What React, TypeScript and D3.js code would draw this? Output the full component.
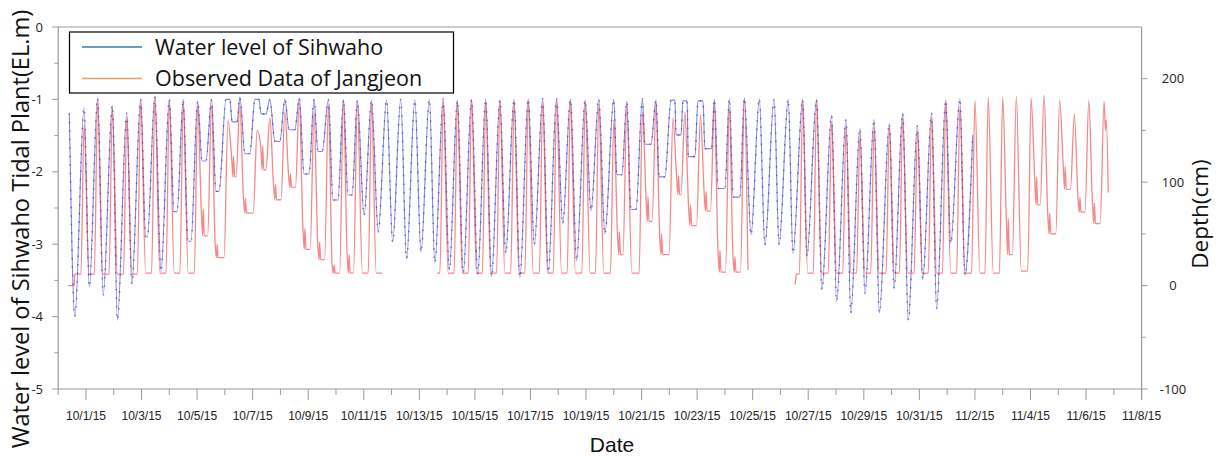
import React from 'react';
import * as d3 from 'd3';

// ---- axis labels ----
const xTickLabels = ['10/1/15', '10/3/15', '10/5/15', '10/7/15', '10/9/15', '10/11/15', '10/13/15', '10/15/15', '10/17/15', '10/19/15', '10/21/15', '10/23/15', '10/25/15', '10/27/15', '10/29/15', '10/31/15', '11/2/15', '11/4/15', '11/6/15', '11/8/15'];
const leftTicks = [0, -1, -2, -3, -4, -5];
const rightTicks = [200, 100, 0, -100];

// ---- Sihwaho water level (EL.m): turning points [days since 10/1/15, level] ----
const sihwahoPoints: [number, number][] = [
  [-0.60, -1.19], [-0.40, -4.00], [-0.07, -1.12], [0.12, -3.59], [0.42, -0.98], [0.62, -3.70],
  [0.95, -1.08], [1.13, -4.05], [1.47, -1.19], [1.65, -3.55], [1.97, -1.00], [2.15, -2.90], [2.21, -2.90],
  [2.48, -0.96], [2.70, -3.38], [3.00, -1.00], [3.17, -2.55], [3.28, -2.55], [3.50, -1.00],
  [3.67, -2.96], [3.78, -2.96], [4.02, -1.02], [4.18, -1.85], [4.32, -1.85], [4.52, -1.00],
  [4.68, -2.27], [4.79, -2.27], [5.04, -1.00], [5.18, -1.00], [5.26, -1.31], [5.44, -1.31],
  [5.54, -0.97], [5.72, -1.75], [5.90, -1.75], [6.08, -1.00], [6.23, -1.00], [6.30, -1.20], [6.48, -1.20],
  [6.62, -1.00], [6.80, -1.58], [6.98, -1.58], [7.16, -1.00], [7.31, -1.42], [7.52, -1.42],
  [7.68, -0.98], [7.85, -2.03], [8.03, -2.03], [8.21, -1.00], [8.35, -1.72], [8.50, -1.72],
  [8.73, -1.00], [8.89, -2.39], [9.07, -2.39], [9.27, -1.00], [9.43, -2.32], [9.58, -2.32],
  [9.77, -1.01], [10.01, -2.60], [10.28, -1.01], [10.52, -2.83], [10.82, -1.01], [11.04, -2.97],
  [11.33, -1.00], [11.54, -3.20], [11.84, -1.01], [12.06, -3.11], [12.36, -1.00], [12.56, -3.26],
  [12.86, -0.99], [13.08, -3.36], [13.37, -1.01], [13.58, -3.40], [13.88, -1.00], [14.10, -3.42],
  [14.39, -1.00], [14.60, -3.45], [14.90, -1.01], [15.11, -3.13], [15.41, -1.00], [15.62, -3.46],
  [15.92, -0.99], [16.14, -3.01], [16.44, -0.99], [16.64, -3.39], [16.94, -0.99], [17.16, -2.72],
  [17.44, -1.00], [17.66, -3.23], [17.97, -1.01], [18.18, -2.54], [18.46, -0.99], [18.68, -2.86],
  [19.00, -1.00], [19.11, -2.04], [19.29, -2.04], [19.47, -1.03], [19.62, -2.52], [19.80, -2.52],
  [20.03, -0.99], [20.12, -1.62], [20.34, -1.62], [20.52, -1.01], [20.63, -2.07], [20.84, -2.07],
  [21.06, -1.01], [21.20, -1.01], [21.24, -1.49], [21.42, -1.49], [21.49, -1.02], [21.64, -1.02],
  [21.68, -1.79], [21.92, -1.79], [22.03, -1.02], [22.21, -1.02], [22.28, -1.68], [22.52, -1.68],
  [22.62, -1.00], [22.76, -2.23], [23.00, -2.23], [23.16, -0.99], [23.30, -2.35], [23.54, -2.35],
  [23.70, -0.98], [23.94, -2.87], [24.24, -0.99], [24.44, -3.01], [24.77, -1.00], [24.95, -3.01],
  [25.28, -1.00], [25.45, -3.13], [25.80, -1.00], [25.95, -3.17], [26.30, -1.00], [26.49, -3.63],
  [26.84, -1.22], [27.02, -3.79], [27.36, -1.28], [27.53, -3.95], [27.86, -1.40], [28.04, -3.68],
  [28.37, -1.28], [28.56, -3.95], [28.92, -1.33], [29.09, -3.61], [29.40, -1.19], [29.60, -4.05],
  [29.93, -1.36], [30.12, -3.49], [30.44, -1.19], [30.62, -3.89], [30.95, -1.01], [31.13, -2.99],
  [31.46, -0.99], [31.64, -3.43], [31.92, -1.49],
];

// ---- Jangjeon observed depth (cm), one entry per high tide ----
const highTideDays = [-0.07, 0.42, 0.95, 1.47, 1.97, 2.48, 3.00, 3.50, 4.02, 4.52, 5.11, 5.54, 6.16, 6.62, 7.16, 7.68, 8.21, 8.73, 9.27, 9.77, 10.28, 10.82, 11.33, 11.84, 12.36, 12.86, 13.37, 13.88, 14.39, 14.90, 15.41, 15.92, 16.44, 16.94, 17.44, 17.97, 18.46, 19.00, 19.47, 20.03, 20.52, 21.13, 21.56, 22.12, 22.62, 23.16, 23.70, 24.24, 24.77, 25.28, 25.80, 26.30, 26.84, 27.36, 27.86, 28.37, 28.92, 29.40, 29.93, 30.44, 30.95, 31.46, 32.00, 32.48, 33.00, 33.49, 34.02, 34.49, 35.05, 35.58, 36.10, 36.65];
const jangjeonHigh: (number | null)[] = [155, 178, 172, 163, 178, 182, 178, 177, 175, 174, 160, 174, 150, 162, 168, 177, 168, 175, 178, 176, 176, null, null, null, null, 178, 178, 179, 178, 179, 178, 179, 178, 180, 179, 178, 176, 160, 174, 168, 175, 162, 168, 165, 174, 171, 181, null, null, null, 178, 179, 158, 154, 146, 154, 153, 163, 150, 163, 178, 173, 179, 182, 182, 183, 181, 184, 179, 166, 179, 178];
const jangjeonLow: (number | null)[] = [11, 11, 11, 11, 12, 12, 12, 12, 48, 27, 105, 70, 112, 83, 95, 35, 25, 12, 12, 12, null, null, null, null, null, 12, 12, 12, 12, 12, 12, 12, 12, 12, 12, 12, 12, 30, 12, 62, 30, 88, 58, 72, 13, 13, null, null, null, null, 12, 12, 12, 12, 12, 12, 12, 12, 12, 12, 12, 12, 12, 12, 30, 14, 78, 50, 93, 71, 60, null];
const jangjeonSpike: (number | null)[] = [null, null, null, null, null, null, null, null, 74, 40, 125, 84, 135, 98, 108, 55, 42, 20, 30, null, null, null, null, null, null, null, null, null, null, null, null, null, null, null, null, null, null, 52, null, 86, 50, 106, 78, 91, 34, 28, null, null, null, null, null, null, null, null, null, null, null, null, null, null, null, null, null, null, 65, null, 105, 70, 115, 85, 80, null];
const jangjeonLeadIn: [number, number][][] = [
  [[-0.65, 0], [-0.42, 0], [-0.41, 11], [-0.18, 11]],
  [[12.64, 12], [12.74, 12]],
  [[25.52, 1], [25.55, 6], [25.57, 11], [25.68, 11]],
];
const jangjeonTail: [number, number][][] = [
  [[10.45, 12], [10.66, 12]],
  [[23.83, 15]],
  [[36.70, 150], [36.73, 160], [36.80, 90]],
];

function buildJangjeon(): [number, number][][] {
  const segs: [number, number][][] = [];
  let seg: [number, number][] | null = null;
  let segIdx = 0;
  for (let i = 0; i < highTideDays.length; i++) {
    const h = jangjeonHigh[i];
    if (h == null) continue;
    if (!seg) seg = [...jangjeonLeadIn[segIdx]];
    const tp = highTideDays[i];
    seg.push([tp, h]);
    const nextHas = i + 1 < highTideDays.length && jangjeonHigh[i + 1] != null;
    if (nextHas) {
      const tn = highTideDays[i + 1];
      const L = jangjeonLow[i] as number;
      const S = jangjeonSpike[i];
      if (S == null) {
        seg.push([tp + 0.18, L], [tn - 0.12, L]);
      } else {
        seg.push([tp + 0.13, S], [tp + 0.18, L], [tp + 0.20, S], [tp + 0.24, L], [tn - 0.14, L]);
      }
    } else {
      seg.push(...jangjeonTail[segIdx]);
      segs.push(seg);
      seg = null;
      segIdx++;
    }
  }
  return segs;
}

export default function App() {
  const W = 1224, H = 457;
  const x = d3.scaleLinear().domain([-1, 38]).range([58.2, 1141.6]);
  const yL = d3.scaleLinear().domain([-5, 0]).range([389, 27]);
  const yR = d3.scaleLinear().domain([-100, 250]).range([389, 27]);
  const blueLine = d3.line<[number, number]>().x(d => x(d[0])).y(d => yL(d[1])).curve(d3.curveMonotoneX);
  const redLine = d3.line<[number, number]>().x(d => x(d[0])).y(d => yR(d[1])).curve(d3.curveMonotoneX);
  const redSegs = buildJangjeon();

  const axisColor = '#9a9a9a';
  const textColor = '#222';
  const x0 = x(-1), x1 = x(38), yTop = yL(0), yBot = yL(-5);
  const blueD = blueLine(sihwahoPoints) || '';

  return (
    <svg width={W} height={H} style={{ position: 'absolute', left: 0, top: 0, background: '#fff' }}>
      <rect x={0} y={0} width={W} height={H} fill="#fff" />
      {/* frame */}
      <line x1={x0} x2={x1} y1={yTop} y2={yTop} stroke={axisColor} strokeWidth={1.2} />
      <line x1={x0} x2={x1} y1={yBot} y2={yBot} stroke={axisColor} strokeWidth={1.2} />
      <line x1={x0} x2={x0} y1={yTop} y2={yBot} stroke={axisColor} strokeWidth={1.2} />
      <line x1={x1} x2={x1} y1={yTop} y2={yBot + 11} stroke={axisColor} strokeWidth={1.2} />

      {/* left axis */}
      {leftTicks.map(v => (
        <g key={'l' + v}>
          <line x1={x0 - 6} x2={x0} y1={yL(v)} y2={yL(v)} stroke={axisColor} />
          <text x={43} y={yL(v)} dy="0.35em" textAnchor="end" fontSize={13} fontFamily="'Open Sans', 'Liberation Sans', sans-serif" fill={textColor}>{v}</text>
        </g>
      ))}
      {d3.range(-0.5, -5, -1).map(v => (
        <line key={'lm' + v} x1={x0 - 4} x2={x0} y1={yL(v)} y2={yL(v)} stroke={axisColor} />
      ))}

      {/* right axis */}
      {rightTicks.map(v => (
        <g key={'r' + v}>
          <line x1={x1} x2={x1 + 6} y1={yR(v)} y2={yR(v)} stroke={axisColor} />
          <text x={1173} y={yR(v)} dy="0.35em" textAnchor="middle" fontSize={13} fontFamily="'Open Sans', 'Liberation Sans', sans-serif" fill={textColor}>{v}</text>
        </g>
      ))}
      {[150, 50, -50].map(v => (
        <line key={'rm' + v} x1={x1} x2={x1 + 4} y1={yR(v)} y2={yR(v)} stroke={axisColor} />
      ))}

      {/* x axis */}
      {xTickLabels.map((lab, i) => (
        <g key={'x' + i}>
          <line x1={x(2 * i)} x2={x(2 * i)} y1={yBot} y2={yBot + 11} stroke={axisColor} />
          <text x={x(2 * i)} y={420} textAnchor="middle" fontSize={12} fontFamily="'Liberation Sans Narrow', 'Liberation Sans', sans-serif" fill={textColor}>{lab}</text>
        </g>
      ))}
      {d3.range(-1, 38, 2).map(d => (
        <line key={'xm' + d} x1={x(d)} x2={x(d)} y1={yBot} y2={yBot + 6} stroke={axisColor} />
      ))}

      {/* series */}
      <path d={blueD} fill="none" stroke="#7070e0" strokeWidth={1.1} strokeOpacity={0.85} />
      {redSegs.map((s, i) => (
        <path key={'red' + i} d={redLine(s) || ''} fill="none" stroke="#f26060" strokeWidth={1.3} strokeOpacity={0.75} />
      ))}
      <path d={blueD} fill="none" stroke="#3a2aa0" strokeWidth={1.5} strokeOpacity={0.6} strokeDasharray="1.5 7" />

      {/* legend */}
      <rect x={69.5} y={32} width={384} height={61} fill="#fff" stroke="#000" strokeWidth={1.2} />
      <line x1={82} x2={142} y1={47} y2={47} stroke="#3a78c0" strokeWidth={1.6} />
      <line x1={82} x2={142} y1={78.5} y2={78.5} stroke="#dfa070" strokeWidth={1.6} />
      <text x={155} y={55} fontSize={21.5} fontFamily="'Open Sans', 'Liberation Sans', sans-serif" fill="#111">Water level of Sihwaho</text>
      <text x={155} y={86} fontSize={21.5} fontFamily="'Open Sans', 'Liberation Sans', sans-serif" fill="#111">Observed Data of Jangjeon</text>

      {/* axis titles */}
      <text x={612} y={452} textAnchor="middle" fontSize={21} fontFamily="'Liberation Sans', Arial, sans-serif" fill="#111">Date</text>
      <text transform="translate(29,229) rotate(-90)" textAnchor="middle" fontSize={23.6} fontFamily="'Open Sans', 'Liberation Sans', sans-serif" fill="#111">Water level of Sihwaho Tidal Plant(EL.m)</text>
      <text transform="translate(1208,214) rotate(-90)" textAnchor="middle" fontSize={22.5} fontFamily="'Open Sans', 'Liberation Sans', sans-serif" fill="#111">Depth(cm)</text>
    </svg>
  );
}
